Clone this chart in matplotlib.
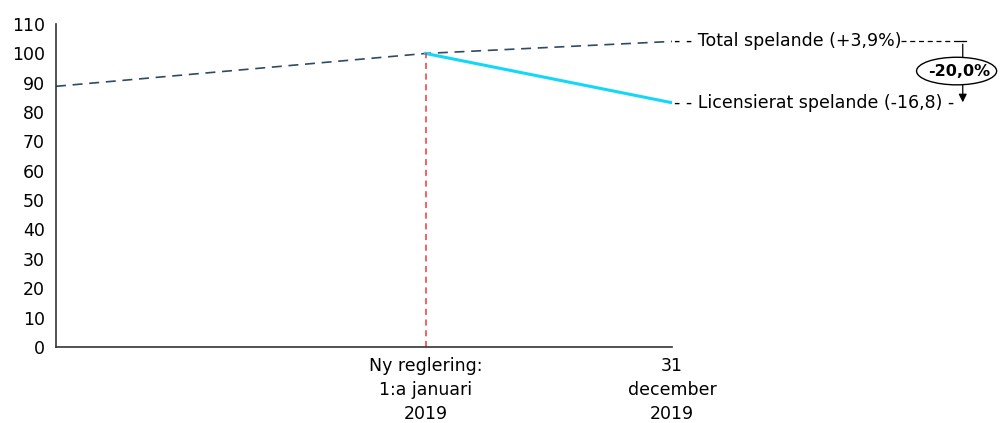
import matplotlib
matplotlib.use("Agg")
import matplotlib.pyplot as plt
from matplotlib.patches import Ellipse

# data
x_total = [0.0, 0.6, 1.0]
total = [88.8, 100.0, 104.1]
x_lic = [0.6, 1.0]
licensed = [100.0, 83.2]
reform_x = 0.6
tick_pos = [0.6, 1.0]
tick_labels = ["Ny reglering:\n1:a januari\n2019", "31\ndecember\n2019"]
total_label = "Total spelande (+3,9%)"
lic_label = "Licensierat spelande (-16,8)"
diff_label = "-20,0%"

plt.rcParams["font.family"] = ["DejaVu Sans"]
FS = 12.5

fig = plt.figure(figsize=(10, 4.23), dpi=100)
ax = fig.add_axes([0.056, 0.18, 0.616, 0.763])

ax.plot(x_total, total, color="#2F4B63", lw=1.2, ls=(0, (6, 4)))
ax.plot(x_lic, licensed, color="#12D8F5", lw=2.2)
ax.plot([reform_x, reform_x], [0, total[1]], color="#F0383B", lw=1.1,
        ls=(0, (4, 3)))

ax.set_xlim(0, 1)
ax.set_ylim(0, 110)
ax.set_yticks(range(0, 111, 10))
ax.set_xticks(tick_pos)
ax.set_xticklabels(tick_labels, fontsize=FS, linespacing=1.45)
ax.tick_params(axis="y", labelsize=FS, length=0, pad=8)
ax.tick_params(axis="x", length=0, pad=7)
for s in ("top", "right"):
    ax.spines[s].set_visible(False)
for s in ("left", "bottom"):
    ax.spines[s].set_color("#333333")
    ax.spines[s].set_linewidth(1.2)

# labels at the right end of the lines
ax.annotate("- - " + total_label, xy=(1.0, total[-1]), xytext=(1.003, total[-1]),
            va="center", ha="left", fontsize=FS, annotation_clip=False)
ax.annotate("- - " + lic_label + " -", xy=(1.0, licensed[-1]),
            xytext=(1.003, licensed[-1]),
            va="center", ha="left", fontsize=FS, annotation_clip=False)

# difference arrow with ellipse
xa = 1.472
ax.plot([1.372, xa], [total[-1], total[-1]], color="black", lw=0.9,
        ls=(0, (4, 3)), clip_on=False)
ax.plot([xa - 0.006, xa + 0.006], [total[-1], total[-1]], color="black",
        lw=0.9, clip_on=False)
ax.annotate("", xy=(xa, licensed[-1] - 0.8), xytext=(xa, total[-1]),
            arrowprops=dict(arrowstyle="-|>", color="black", lw=0.9,
                            mutation_scale=12),
            annotation_clip=False)
ell = Ellipse((1.462, 94.0), 0.13, 9.4, facecolor="white", edgecolor="black",
              lw=1.0, clip_on=False, zorder=5)
ax.add_patch(ell)
ax.text(1.466, 94.0, diff_label, ha="center", va="center", fontsize=11.5,
        fontweight="bold", zorder=6)

fig.savefig("out.png", dpi=100)
